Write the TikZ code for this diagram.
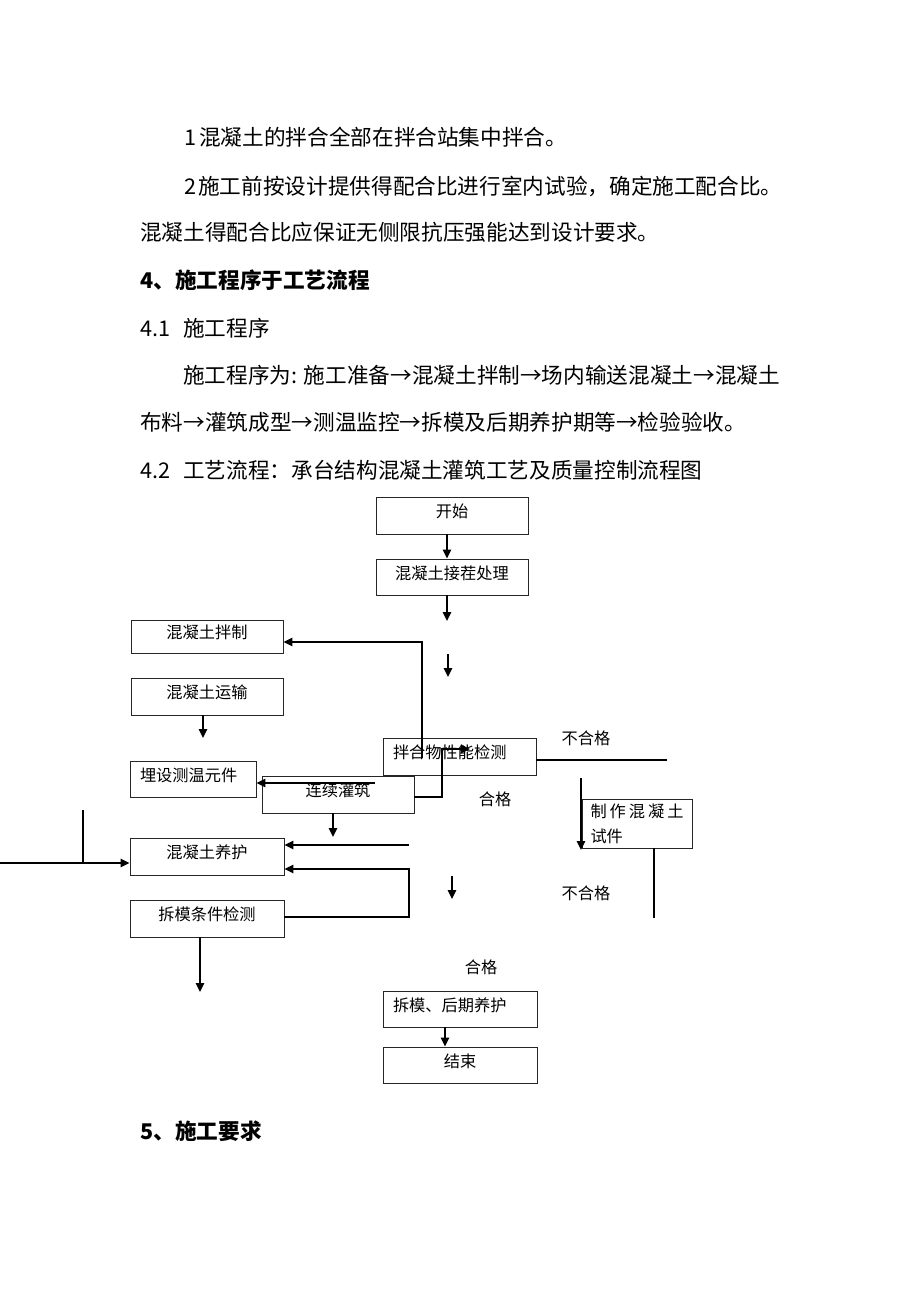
\documentclass[tikz,border=0pt]{standalone}
\usepackage{fontspec}
\setmainfont{Noto Sans CJK SC}
\usetikzlibrary{arrows.meta}
\newdimen\PX \PX=0.6471pt
\newcommand\bodyfont{\fontsize{14pt}{16pt}\selectfont}
\newcommand\boxfont{\fontsize{10.5pt}{16.2pt}\selectfont}
\newcommand\bxt[1]{\smash{\raisebox{-2\PX}{#1}}}
\tikzset{
  bx/.style 2 args={draw=black!85, line width=0.6pt, minimum width=#1*0.6471pt, minimum height=#2*0.6471pt, inner sep=0pt, font=\boxfont},
  conn/.style={line width=0.85pt},
  arr/.style={conn, -{Triangle[length=5.8pt,width=5.4pt]}},
  txt/.style={anchor=west, inner sep=0pt, font=\bodyfont},
  lbl/.style={inner sep=0pt, font=\boxfont},
}
\begin{document}
\begin{tikzpicture}[x=0.6471pt,y=-0.6471pt]
\fill[white] (0,0) rectangle (920,1302);
\useasboundingbox (0,0) rectangle (920,1302);

% body text
\node[txt] (p1) at (184,137) {\makebox[15\PX][l]{1}混凝土的拌合全部在拌合站集中拌合。};
\node[txt] (p2) at (184,186) {\makebox[14\PX][l]{2}施工前按设计提供得配合比进行室内试验，确定施工配合比。};
\node[txt] (p3) at (140,232) {混凝土得配合比应保证无侧限抗压强能达到设计要求。};
\node[txt,font=\bodyfont\bfseries] (h4) at (140,280) {4、施工程序于工艺流程};
\node[txt] (h41) at (140,328) {\makebox[43\PX][l]{4.1}施工程序};
\node[txt] (p4) at (183,375) {施工程序为: 施工准备→混凝土拌制→场内输送混凝土→混凝土};
\node[txt] (p5) at (140,422) {布料→灌筑成型→测温监控→拆模及后期养护期等→检验验收。};
\node[txt] (h42) at (140,470) {\makebox[43\PX][l]{4.2}工艺流程：承台结构混凝土灌筑工艺及质量控制流程图};
\node[txt,font=\bodyfont\bfseries] (h5) at (140,1131) {5、施工要求};

% boxes
\node[bx={152}{37}] (start) at (452,515.5) {\bxt{开始}};
\node[bx={152}{36}] (jc) at (452,577) {\bxt{混凝土接茬处理}};
\node[bx={152}{33}] (bz) at (207,636.5) {\bxt{混凝土拌制}};
\node[bx={152}{37}] (ys) at (207,696.5) {\bxt{混凝土运输}};
\node[bx={126}{36}] (ms) at (193,779) {\bxt{\makebox[106\PX][l]{埋设测温元件}}};
\node[bx={153}{37}] (bh) at (459.5,756.5) {\bxt{\makebox[133\PX][l]{拌合物性能检测}}};
\node[bx={152}{37}] (lx) at (338,794.5) {\bxt{连续灌筑}};
\node[bx={154}{37}] (yh) at (207,856.5) {\bxt{混凝土养护}};
\node[bx={154}{37}] (cm) at (207,918.5) {\bxt{拆模条件检测}};
\node[bx={110}{49}, align=left, text width=93*0.6471pt] (zz) at (637,823.5) {\makebox[93\PX][s]{制\hfill 作\hfill 混\hfill 凝\hfill 土}\\试件};
\node[bx={154}{36}] (hq) at (460,1009) {\bxt{\makebox[134\PX][l]{拆模、后期养护}}};
\node[bx={154}{36}] (js) at (460,1065) {\bxt{结束}};

% labels
\node[lbl] (l1) at (586,738) {不合格};
\node[lbl] (l2) at (495,799) {合格};
\node[lbl] (l3) at (586,893) {不合格};
\node[lbl] (l4) at (481,967) {合格};

% connectors
\coordinate (xa) at (447,0);
\draw[arr] (start.south -| xa) -- (jc.north -| xa);
\coordinate (f1) at (447,621);
\draw[arr] (jc.south -| f1) -- (f1);
\coordinate (f2a) at (448,654); \coordinate (f2b) at (448,677);
\draw[arr] (f2a) -- (f2b);
\coordinate (f3) at (422,758); \coordinate (f3y) at (0,642);
\draw[arr] (f3) |- (bz.east |- f3y);
\coordinate (f4) at (203,738);
\draw[arr] (ys.south -| f4) -- (f4);
\coordinate (f5a) at (0,797); \coordinate (f5b) at (442,749); \coordinate (f5c) at (470,749);
\draw[arr] (lx.east |- f5a) -| (f5b) -- (f5c);
\coordinate (f6) at (375,783);
\draw[arr] (f6) -- (ms.east |- f6);
\coordinate (f7) at (333,837);
\draw[arr] (lx.south -| f7) -- (f7);
\coordinate (f8) at (409,845);
\draw[arr] (f8) -- (yh.east |- f8);
\coordinate (f9a) at (0,917); \coordinate (f9b) at (409,869);
\draw[arr] (cm.east |- f9a) -| (f9b) -- (yh.east |- f9b);
\coordinate (f10a) at (83,810); \coordinate (f10b) at (83,863); \coordinate (f10c) at (0,863);
\draw[conn] (f10a) -- (f10b);
\draw[arr] (f10c) -- (yh.west |- f10c);
\coordinate (f11) at (200,992);
\draw[arr] (cm.south -| f11) -- (f11);
\coordinate (f12a) at (452,876); \coordinate (f12b) at (452,899);
\draw[arr] (f12a) -- (f12b);
\coordinate (f13) at (667,760);
\draw[conn] (bh.east |- f13) -- (f13);
\coordinate (f14a) at (581,778); \coordinate (f14b) at (581,850);
\draw[arr] (f14a) -- (f14b);
\coordinate (f15) at (654,918);
\draw[conn] (zz.south -| f15) -- (f15);
\coordinate (xb) at (445,0);
\draw[arr] (hq.south -| xb) -- (js.north -| xb);
\end{tikzpicture}
\end{document}
